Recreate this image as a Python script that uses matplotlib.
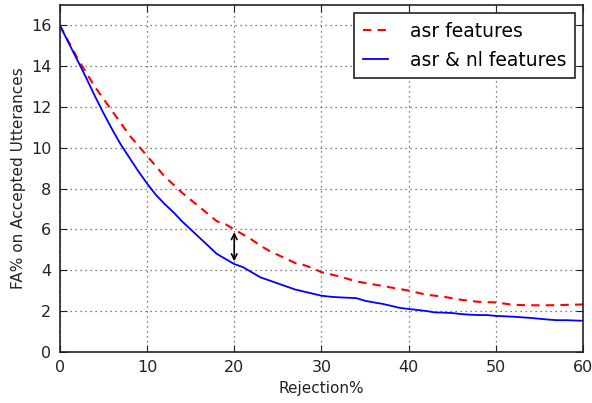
import numpy as np
import matplotlib
matplotlib.use("Agg")
import matplotlib.pyplot as plt

# rejection % and FA%
asr_x = [0, 1, 2, 3, 4, 5, 6, 7, 8, 9, 10, 11, 12, 13, 14, 15, 16, 17, 18, 19,
         20, 21, 22, 23, 24, 25, 26, 27, 28, 29, 30, 32, 34, 36, 38, 40, 42, 44,
         46, 48, 50, 52, 54, 56, 58, 60]
asr_fa = [16.0, 15.2, 14.4, 13.7, 13.0, 12.4, 11.8, 11.2, 10.6, 10.1, 9.6, 9.1,
          8.6, 8.2, 7.8, 7.45, 7.1, 6.75, 6.4, 6.25, 6.0, 5.75, 5.5, 5.2, 4.95,
          4.75, 4.55, 4.35, 4.25, 4.1, 3.9, 3.7, 3.45, 3.3, 3.15, 3.0, 2.8, 2.7,
          2.55, 2.45, 2.42, 2.3, 2.28, 2.28, 2.3, 2.32]

nl_x = [0, 1, 2, 3, 4, 5, 6, 7, 8, 9, 10, 11, 12, 13, 14, 15, 16, 17, 18, 19,
        20, 21, 22, 23, 24, 25, 26, 27, 28, 29, 30, 31, 32, 33, 34, 35, 36, 37,
        38, 39, 40, 41, 42, 43, 44, 45, 46, 47, 48, 49, 50, 52, 54, 56, 57, 58, 60]
nl_fa = [16.0, 15.15, 14.3, 13.45, 12.55, 11.7, 10.9, 10.15, 9.5, 8.85, 8.25,
         7.7, 7.25, 6.85, 6.4, 6.0, 5.6, 5.2, 4.8, 4.55, 4.3, 4.15, 3.9, 3.65,
         3.5, 3.35, 3.2, 3.05, 2.95, 2.85, 2.75, 2.7, 2.67, 2.65, 2.63, 2.5,
         2.42, 2.35, 2.25, 2.15, 2.1, 2.05, 2.0, 1.93, 1.92, 1.9, 1.85, 1.82,
         1.8, 1.8, 1.76, 1.72, 1.66, 1.58, 1.55, 1.55, 1.52]

arrow_x = 20
arrow_top = 6.0
arrow_bottom = 4.3

fig = plt.figure(figsize=(5.92, 4.03), dpi=100)
ax = fig.add_axes([0.101, 0.127, 0.884, 0.861])

ax.plot(asr_x, asr_fa, color="red", linestyle="--", dashes=(4, 3), linewidth=1.5,
        label="asr features")
ax.plot(nl_x, nl_fa, color="blue", linewidth=1.3, label="asr & nl features")

ax.annotate("", xy=(arrow_x, arrow_bottom), xytext=(arrow_x, arrow_top),
            arrowprops=dict(arrowstyle="<->", color="black", lw=1.2))

ax.set_xlim(0, 60)
ax.set_ylim(0, 17)
ax.set_xticks(range(0, 61, 10))
ax.set_yticks(range(0, 17, 2))
ax.grid(True, color="#555555", linestyle=(0, (1, 3)), linewidth=0.9)
ax.tick_params(labelsize=11.5, direction="in", length=5, top=True, right=True,
               colors="#222222", pad=6)
for s in ax.spines.values():
    s.set_linewidth(1.2)
    s.set_color("#222222")

ax.set_xlabel("Rejection%", fontsize=11, color="#222222")
ax.set_ylabel("FA% on Accepted Utterances", fontsize=11, color="#222222")

leg = ax.legend(loc="upper right", fontsize=13.5, fancybox=False, framealpha=1,
                edgecolor="#222222", handlelength=1.35, borderpad=0.45,
                labelspacing=0.55, handletextpad=1.15, borderaxespad=0.45)
leg.get_frame().set_linewidth(1.2)

fig.savefig("out.png", dpi=100)
